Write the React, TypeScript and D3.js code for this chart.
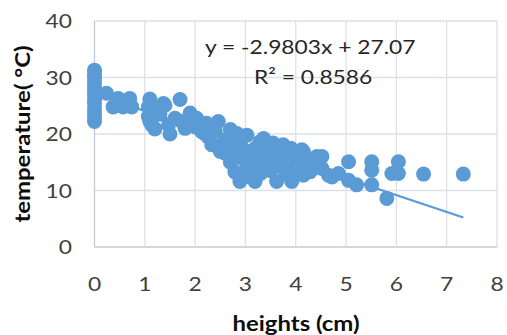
import * as d3 from 'd3'

// heights (cm) and temperature (°C)
const heights = [
  0, 0, 0, 0, 0, 0, 0, 0, 0, 0, 0, 0, 0,
  0.24, 0.47, 0.7, 0.37, 0.57, 0.74, 1.1, 1.07, 1.37, 1.07, 1.14, 1.7, 1.4, 1.2, 1.9, 1.1, 1.2,
  1.5, 1.47, 1.73, 2.03, 2.23, 2.46, 2.13, 2.33, 2.5, 2.26, 2.83, 3.03, 2.59, 2.83, 2.93, 3.29,
  3.55, 3.09, 2.79, 2.89, 3.19, 3.26, 3.62, 3.65, 3.46, 3.36, 3.75, 4.12, 3.55, 3.39, 3.72, 4.02,
  4.52, 4.15, 3.92, 4.35, 4.65, 4.85, 5.05, 5.05, 5.21, 5.51, 5.51, 5.51, 6.04, 5.91, 6.04, 5.81,
  6.54, 7.33, 4.42, 4.15, 4.28, 4.52, 4.72,
  2.4, 2.6, 2.7, 2.9, 3.0, 3.1, 3.2, 3.3, 3.4, 3.5, 3.6, 3.8, 3.9, 4.0, 3.7, 3.1, 3.3, 3.5, 3.8,
  4.0, 4.1, 4.2, 3.0, 2.7, 2.5, 2.2, 1.8, 1.6, 1.3, 1.9, 2.0, 2.7, 2.9, 4.3, 4.4, 3.4, 3.6, 3.9,
  3.95, 3.05,
]
const temps = [
  31.3, 30.6, 30, 29.2, 28.5, 27.8, 27, 26.2, 25.5, 24.6, 23.8, 23, 22.2,
  27.2, 26.3, 26.3, 24.8, 24.8, 24.8, 26.2, 24.8, 25.4, 23.1, 21.6, 26.1, 25.1, 24.6, 23.7, 22.2, 20.9,
  20, 21.6, 22.2, 22.8, 21.9, 22.2, 20.4, 18.1, 16.9, 19.5, 20.1, 19.8, 16.6, 17.2, 15.7, 18.6,
  18.4, 15.1, 13.3, 11.6, 11.6, 13.6, 11.6, 14.8, 16.6, 19.2, 18.1, 17.2, 16.9, 15.7, 14.2, 15.4,
  16.0, 12.7, 11.6, 13.9, 12.7, 13.0, 11.8, 15.1, 11.0, 11.0, 15.1, 13.6, 15.1, 13.0, 13.0, 8.6,
  12.9, 12.9, 16.0, 16.9, 13.3, 13.9, 12.4,
  20.5, 19, 18, 18.5, 17, 16.5, 17.5, 16, 14.5, 15.5, 16, 16.5, 17.5, 16.8, 15.3, 14, 13, 13.5, 13,
  13.5, 14.5, 15.8, 13.5, 15, 18, 20, 21, 22.8, 23.5, 22, 21.3, 20.8, 19.5, 15, 14.2, 17.5, 17.8, 14,
  12.5, 12.5,
]
const slope = -2.9803
const intercept = 27.07
const xTicks = [0, 1, 2, 3, 4, 5, 6, 7, 8]
const yTicks = [0, 10, 20, 30, 40]

const BLUE = '#5B9BD5'
const FONT = 'Lato, "Open Sans", sans-serif'
const SX = 1.14 // text in the picture is a bit wider than Lato

function Txt({ x, y, rotate = 0, children, ...rest }: any) {
  return (
    <g transform={`translate(${x},${y}) rotate(${rotate}) scale(${SX},1)`}>
      <text {...rest}>{children}</text>
    </g>
  )
}

export default function App() {
  const W = 507, H = 335
  const x = d3.scaleLinear().domain([0, 8]).range([94.5, 497])
  const y = d3.scaleLinear().domain([0, 40]).range([247, 21])

  const xMax = d3.max(heights) ?? 7.3
  const trend = d3.line<number>().x(v => x(v)).y(v => y(slope * v + intercept))

  return (
    <svg width={W} height={H} style={{ position: 'absolute', left: 0, top: 0, background: '#fff' }}
      fontFamily={FONT}>
      {/* grid */}
      {yTicks.map(t => (
        <line key={'gy' + t} x1={x(0)} x2={x(8)} y1={y(t)} y2={y(t)}
          stroke={t === 0 ? '#c4cad3' : '#dde1e7'} strokeWidth={1.3} />
      ))}
      {xTicks.map(t => (
        <line key={'gx' + t} x1={x(t)} x2={x(t)} y1={y(0)} y2={y(40)}
          stroke={t === 0 ? '#c4cad3' : '#dde1e7'} strokeWidth={1.3} />
      ))}

      {/* tick labels */}
      {yTicks.map(t => (
        <Txt key={'ly' + t} x={72} y={y(t)} dy="0.36em" textAnchor="end" fontSize={20} fill="#404040">{t}</Txt>
      ))}
      {xTicks.map(t => (
        <Txt key={'lx' + t} x={x(t)} y={291} textAnchor="middle" fontSize={20} fill="#404040">{t}</Txt>
      ))}

      {/* trendline */}
      <path d={trend([0, xMax]) ?? ''} fill="none" stroke={BLUE} strokeWidth={2.3} />

      {/* points */}
      {heights.map((h, i) => (
        <circle key={i} cx={x(h)} cy={y(temps[i])} r={7.5} fill={BLUE} />
      ))}

      {/* trendline label */}
      <Txt x={205} y={54} fontSize={20} fill="#262626">y = -2.9803x + 27.07</Txt>
      <Txt x={254} y={84} fontSize={20} fill="#262626">R² = 0.8586</Txt>

      {/* axis titles */}
      <Txt x={30} y={y(20)} rotate={-90} textAnchor="middle" fontSize={21}
        fontWeight="bold" fill="#0d0d0d">temperature( °C)</Txt>
      <Txt x={296} y={331} textAnchor="middle" fontSize={21} fontWeight="bold" fill="#0d0d0d">heights (cm)</Txt>
    </svg>
  )
}
